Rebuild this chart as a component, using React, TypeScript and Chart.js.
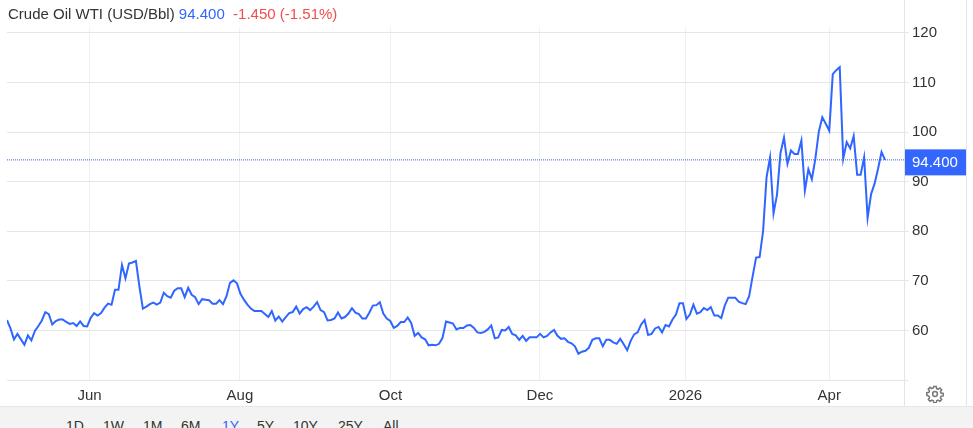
import React, { useEffect, useRef } from "react";
import { Chart, registerables } from "chart.js";

Chart.register(...registerables);

const closeSpringSummer = [
  62.1, 60.4, 58.2, 59.3, 58.2, 57.1, 59.0, 58.0, 59.9, 60.9, 62.0, 63.7, 63.3, 61.2, 61.9, 62.2, 62.2, 61.7, 61.3, 61.5,
  60.9, 61.8, 60.9, 60.8, 62.5, 63.5, 63.0, 63.5, 64.6, 65.4, 65.2, 68.2, 68.2, 73.2, 70.5, 73.5, 73.7, 74.0, 68.9, 64.4,
  64.8, 65.3, 65.6, 65.2, 65.6, 67.6, 66.9, 66.6, 68.0, 68.5, 68.5, 66.7, 68.6, 67.2, 66.7, 65.3, 66.3, 66.2, 66.1, 65.4,
  65.4, 66.1, 65.3, 66.9, 69.6, 70.1, 69.5, 67.4, 66.2, 65.2, 64.4, 63.9, 63.9, 63.9, 63.3, 62.7, 63.9, 62.0, 62.8, 61.8,
  62.7, 63.5, 63.7, 64.8, 63.4, 64.3, 64.7, 64.1, 64.8, 65.7, 64.1, 63.7, 62.0,
];
const closeAutumn = [
  62.1, 62.4, 63.6, 62.4, 62.7, 63.4, 64.5, 63.6, 63.3, 62.4, 62.4, 63.6, 65.0, 65.1, 65.7, 63.4, 62.4, 61.9, 60.5, 60.9,
  61.7, 61.7, 62.6, 61.5, 58.9, 59.5, 58.6, 58.2, 57.0, 57.1, 57.0, 57.3, 58.5, 61.8, 61.6, 61.4, 60.2, 60.5, 60.5, 61.0,
  61.1, 60.5, 59.6, 59.5, 59.7, 60.2, 61.0, 58.4, 58.6, 60.1, 60.0, 60.7, 59.3, 59.0, 58.1, 58.9, 57.9, 58.6, 58.6, 58.6,
  59.3, 58.6, 58.9, 59.6, 60.1, 58.9, 58.3, 58.4, 57.7, 57.4, 56.8, 55.3, 55.7, 55.9, 56.5, 58.1, 58.4, 58.4, 56.8, 58.1,
  58.1, 57.6, 57.3, 58.3, 57.2, 56.0, 57.9, 59.2, 59.6, 61.2, 62.1, 59.1, 59.3, 60.4, 60.7,
];
const closeWinter = [
  59.6, 61.1, 60.8, 62.2, 63.2, 65.5, 65.5, 62.3, 63.2, 65.2, 63.4, 63.7, 64.5, 64.1, 64.7, 63.0, 63.0, 62.5, 65.0, 66.6,
  66.6, 66.6, 65.8, 65.5, 65.3, 66.9, 70.9,
];
const closeSpring = [
  74.7, 74.8, 80.0, 90.9, 94.9, 83.6, 87.4, 95.8, 98.9, 93.6, 96.3, 95.6, 95.6, 98.3, 88.2, 92.5, 90.5, 94.6, 100.1, 103.0,
  101.7, 100.3, 111.7, 112.5, 113.1, 94.6, 98.0, 96.7, 99.2, 91.4, 91.4, 94.9, 82.7, 87.5, 89.6, 92.6, 96.0, 94.4,
];
const closes = [...closeSpringSummer, ...closeAutumn, ...closeWinter, ...closeSpring];

const monthLabels = ["Jun", "Aug", "Oct", "Dec", "2026", "Apr"];
const monthIndexes = [23.67, 66.86, 110.04, 152.96, 194.7, 236.0];
const lastPrice = 94.4;
const rangeButtons = ["1D", "1W", "1M", "6M", "1Y", "5Y", "10Y", "25Y", "All"];
const rangeLeft = [66, 103, 143, 181, 222, 257, 293, 338, 383];

const FONT = '"Liberation Sans", Arial, sans-serif';
const BLUE = "#2f66ff";
const axisEnd = closes.length - 1 + 18.9 / 3.47;

const priceTag = {
  id: "priceTag",
  afterDraw(chart: any) {
    const { ctx } = chart;
    const y = chart.scales.y.getPixelForValue(lastPrice);
    ctx.save();
    ctx.fillStyle = "#3366ff";
    ctx.fillRect(905, y - 10.5, 61, 26);
    ctx.fillStyle = "#ffffff";
    ctx.font = `15px ${FONT}`;
    ctx.textAlign = "left";
    ctx.textBaseline = "middle";
    ctx.fillText(lastPrice.toFixed(3), 912, y + 3);
    ctx.restore();
  },
};

export default function App() {
  const ref = useRef<HTMLCanvasElement>(null);
  useEffect(() => {
    const chart = new Chart(ref.current!, {
      type: "line",
      data: {
        datasets: [
          {
            data: closes.map((y, x) => ({ x, y })),
            borderColor: BLUE,
            borderWidth: 2,
            pointRadius: 0,
            tension: 0,
          },
          {
            data: [
              { x: 0, y: lastPrice },
              { x: axisEnd, y: lastPrice },
            ],
            borderColor: "#3a5fc8",
            borderWidth: 1,
            borderDash: [1, 1],
            pointRadius: 0,
          },
        ],
      },
      options: {
        animation: false,
        responsive: false,
        parsing: false,
        layout: { padding: { left: 7, top: 27, right: 0, bottom: 0 } },
        plugins: { legend: { display: false }, tooltip: { enabled: false }, title: { display: false } },
        scales: {
          x: {
            type: "linear",
            min: 0,
            max: axisEnd,
            afterBuildTicks: (s: any) => {
              s.ticks = monthIndexes.map((value) => ({ value }));
            },
            afterFit: (s: any) => {
              s.height = 26;
            },
            grid: { color: "#eef1f4", lineWidth: 1, drawTicks: false },
            border: { display: false },
            ticks: {
              autoSkip: false,
              maxRotation: 0,
              padding: 7,
              color: "#333333",
              font: { family: FONT, size: 15 },
              callback: (_v: any, i: number) => monthLabels[i],
            },
          },
          y: {
            type: "linear",
            position: "right",
            min: 50,
            max: 121.2,
            afterFit: (s: any) => {
              s.width = 69;
            },
            grid: { color: "#e6e6e6", lineWidth: 1, tickLength: 5 },
            border: { display: false },
            ticks: {
              stepSize: 10,
              includeBounds: false,
              padding: 3,
              color: "#333333",
              font: { family: FONT, size: 15 },
              callback: (v: any) => (v === 50 ? "" : String(v)),
            },
          },
        },
      },
      plugins: [priceTag],
    } as any);
    return () => chart.destroy();
  }, []);

  const abs = (s: React.CSSProperties): React.CSSProperties => ({ position: "absolute", ...s });
  return (
    <div style={{ position: "fixed", left: 0, top: 0, width: 973, height: 428, overflow: "hidden", background: "#fff", fontFamily: FONT, fontSize: 15 }}>
      <canvas ref={ref} width={973} height={406} style={abs({ left: 0, top: 0, display: "block" })} />
      <div style={abs({ left: 904, top: 0, width: 1, height: 406, background: "#e3e3e3" })} />
      <div style={abs({ left: 966, top: 0, width: 1, height: 406, background: "#e6e6e6" })} />
      <div style={abs({ left: 8, top: 6, whiteSpace: "pre", lineHeight: "16px", color: "#333333" })}>
        Crude Oil WTI (USD/Bbl) <span style={{ color: "#3366ff" }}>94.400</span>
        <span style={{ color: "#f44c4c" }}>{"  -1.450 (-1.51%)"}</span>
      </div>
      <div style={abs({ left: 0, top: 406, width: 973, height: 22, background: "#f3f3f3", borderTop: "1px solid #e6e6e6", boxSizing: "border-box" })} />
      {rangeButtons.map((b, i) => (
        <span key={b} style={abs({ left: rangeLeft[i], top: 418, lineHeight: "16px", fontSize: 14, color: b === "1Y" ? "#3366ff" : "#333333" })}>{b}</span>
      ))}
      <svg width="18" height="18" viewBox="0 0 24 24" style={abs({ left: 926, top: 385 })} fill="none" stroke="#777" strokeWidth="2">
        <circle cx="12" cy="12" r="3.2" />
        <path d="M10.3 2h3.4l.5 2.9 1.9.8 2.4-1.7 2.4 2.4-1.7 2.4.8 1.9 2.9.5v3.4l-2.9.5-.8 1.9 1.7 2.4-2.4 2.4-2.4-1.7-1.9.8-.5 2.9h-3.4l-.5-2.9-1.9-.8-2.4 1.7-2.4-2.4 1.7-2.4-.8-1.9L1 13.7v-3.4l2.9-.5.8-1.9L3 5.5 5.4 3.1l2.4 1.7 1.9-.8z" />
      </svg>
    </div>
  );
}
